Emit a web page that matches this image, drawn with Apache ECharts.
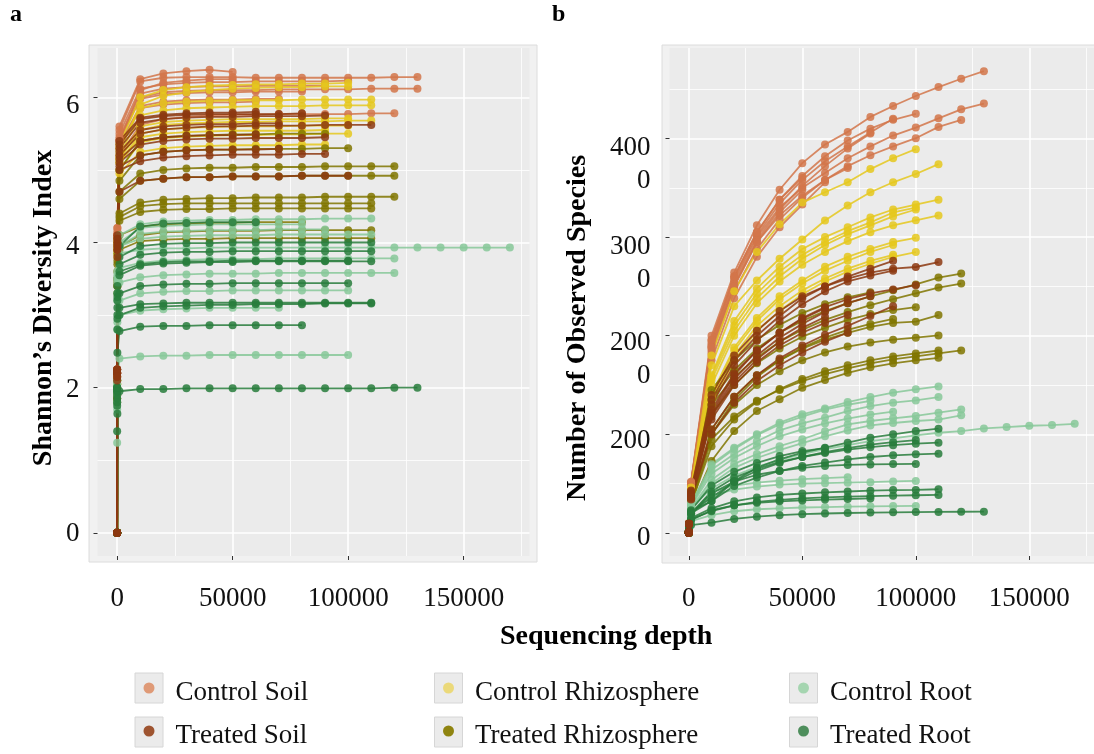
<!DOCTYPE html>
<html><head><meta charset="utf-8">
<script src="https://cdn.jsdelivr.net/npm/echarts@6/dist/echarts.min.js"></script>
<style>html,body{margin:0;padding:0;background:#fff}#chart{width:1094px;height:754px}</style>
</head><body><div id="chart"></div>
<script>
// ---------------- data ----------------
const depths = [1,10,100,1000,10000,20000,30000,40000,50000,60000,70000,80000,90000,100000,110000,120000,130000,140000,150000,160000,170000];
const groupNames = ['Control Soil','Control Rhizosphere','Treated Rhizosphere','Control Root','Treated Root','Treated Soil'];

const shannonControlSoil = [
  [0,2.25,4.2,5.55,6.22,6.27,6.28,6.28,6.28,6.27,6.27,6.27,6.27,6.27,6.27,6.28,6.28],
  [0,2.2,4.1,5.4,6.0,6.07,6.09,6.1,6.1,6.1,6.11,6.11,6.11,6.11,6.12,6.12,6.12],
  [0,2.2,4.05,5.2,5.62,5.7,5.73,5.75,5.76,5.76,5.77,5.77,5.77,5.77,5.78,5.78],
  [0,2.25,4.15,5.5,6.12,6.18,6.2,6.21,6.21,6.22,6.22,6.22,6.22,6.23],
  [0,2.2,4.1,5.45,6.05,6.12,6.14,6.15,6.15,6.16,6.16,6.16,6.16],
  [0,2.2,4.12,5.42,5.98,6.04,6.06,6.07,6.07,6.08,6.08,6.08],
  [0,2.15,4.08,5.35,5.88,5.94,5.96,5.97,5.97,5.98,5.98],
  [0,2.25,4.2,5.6,6.25,6.33,6.36,6.38,6.35],
  [0,2.2,4.1,5.4,6.1,6.2,6.23,6.25,6.25],
  [0,2.2,4.1,5.3,5.85,5.9,5.92,5.93,5.93,5.94]
];
const speciesControlSoil = [
  [1,10,97,520,2000,2640,3120,3480,3750,3940,4067,4219,4330,4431,4522,4606,4683],
  [1,10,96,500,1900,2550,3000,3300,3500,3650,3800,3920,4030,4111,4205,4296,4354],
  [1,10,95,490,1850,2500,2950,3220,3420,3580,3720,3830,3920,4003,4118,4189],
  [1,10,96,510,1950,2600,3050,3380,3620,3820,3980,4100,4190,4250],
  [1,10,96,505,1920,2580,3020,3340,3580,3770,3920,4060,4200],
  [1,10,95,495,1880,2520,2970,3280,3520,3720,3900,4050],
  [1,10,95,480,1820,2450,2880,3180,3400,3580,3700],
  [1,10,97,515,1960,2600,3050,3380,3600],
  [1,10,96,500,1880,2500,2950,3250,3480],
  [1,10,94,470,1750,2380,2800,3100,3330,3556]
];
const shannonControlRhizosphere = [
  [0,2.15,4.05,5.35,6.0,6.1,6.14,6.16,6.17,6.18,6.18,6.19,6.19,6.2],
  [0,2.1,4.0,5.3,5.85,5.92,5.94,5.95,5.96,5.96,5.96,5.97,5.97,5.97,5.97],
  [0,2.1,3.95,5.2,5.75,5.82,5.85,5.86,5.87,5.88,5.88,5.88,5.89,5.89,5.89],
  [0,2.1,3.95,5.15,5.6,5.66,5.68,5.69,5.7,5.7,5.7,5.7,5.71,5.71],
  [0,2.05,3.9,5.1,5.5,5.56,5.58,5.59,5.6,5.6,5.6,5.61,5.61,5.61],
  [0,2.05,3.85,5.0,5.38,5.44,5.46,5.47,5.48,5.48,5.49,5.49,5.5,5.5],
  [0,2.0,3.8,4.95,5.25,5.3,5.32,5.33,5.34,5.34,5.34,5.35,5.35],
  [0,2.1,4.0,5.25,5.9,6.02,6.07,6.1,6.12,6.13,6.14,6.14,6.15,6.15],
  [0,2.05,3.9,5.1,5.45,5.5,5.52,5.53,5.54,5.54,5.54,5.54,5.55],
  [0,2.1,3.9,5.15,5.55,5.62,5.64,5.65,5.66,5.66,5.67,5.67,5.67,5.68,5.68]
];
const speciesControlRhizosphere = [
  [1,10,95,460,1800,2450,2850,3130,3350,3455,3556,3690,3800,3892],
  [1,10,94,440,1700,2300,2560,2781,2976,3168,3320,3455,3556,3640,3740],
  [1,10,93,420,1600,2150,2480,2700,2880,3000,3100,3200,3280,3330,3380],
  [1,10,93,415,1580,2100,2430,2650,2820,2950,3060,3150,3250,3300],
  [1,10,92,410,1550,2050,2380,2600,2780,2920,3030,3120,3210,3280],
  [1,10,92,390,1400,1880,2180,2400,2560,2700,2800,2880,2950,2993],
  [1,10,91,380,1380,1850,2150,2370,2530,2660,2760,2850,2920],
  [1,10,90,370,1300,1750,2050,2250,2420,2550,2650,2730,2800,2848],
  [1,10,91,385,1350,1800,2100,2300,2460,2580,2680,2760,2820],
  [1,10,92,400,1500,2000,2330,2550,2720,2850,2960,3050,3120,3170,3220]
];
const shannonTreatedSoil = [
  [0,2.2,4.0,5.2,5.5,5.56,5.58,5.6,5.6,5.61,5.61,5.61,5.62,5.62,5.62],
  [0,2.25,4.05,5.3,5.65,5.7,5.72,5.73,5.73,5.74,5.74,5.74,5.75],
  [0,2.15,3.9,5.0,5.12,5.17,5.19,5.2,5.21,5.21,5.21,5.22,5.22],
  [0,2.1,3.8,4.7,4.85,4.88,4.9,4.9,4.91,4.91,4.91,4.92,4.92,4.92],
  [0,2.25,4.05,5.35,5.7,5.74,5.76,5.77,5.77,5.77,5.77,5.78],
  [0,2.2,4.0,5.25,5.55,5.6,5.62,5.63,5.63,5.64,5.64],
  [0,2.25,4.1,5.4,5.72,5.76,5.78,5.79,5.79,5.8],
  [0,2.2,3.95,5.1,5.35,5.4,5.42,5.43,5.43,5.44,5.44,5.44,5.45],
  [0,2.2,3.95,5.15,5.4,5.45,5.47,5.48,5.48,5.49],
  [0,2.15,3.9,5.05,5.2,5.25,5.27,5.28,5.28,5.28,5.29]
];
const speciesTreatedSoil = [
  [1,10,93,430,1400,1800,2050,2250,2400,2500,2580,2640,2680,2697,2747],
  [1,10,93,420,1350,1750,2000,2200,2380,2500,2600,2680,2760],
  [1,10,91,400,1300,1700,1950,2150,2320,2450,2550,2610,2660],
  [1,10,90,380,1250,1620,1850,2030,2180,2290,2370,2430,2470,2512],
  [1,10,92,390,1200,1560,1800,1980,2120,2240,2330,2400],
  [1,10,91,380,1150,1500,1730,1900,2030,2130,2210],
  [1,10,92,370,1220,1600,1850,2030,2170,2280],
  [1,10,90,350,1050,1380,1600,1770,1900,2010,2100,2200,2300],
  [1,10,90,360,1180,1530,1760,1940,2080,2190],
  [1,10,89,340,1000,1320,1540,1700,1830,1940,2030]
];
const shannonTreatedRhizosphere = [
  [0,2.0,3.7,4.7,4.95,5.0,5.02,5.03,5.03,5.04,5.04,5.04,5.05,5.05,5.05,5.05],
  [0,1.95,3.6,4.6,4.85,4.88,4.9,4.9,4.91,4.91,4.91,4.92,4.92,4.92,4.92,4.92],
  [0,1.9,3.5,4.35,4.5,4.53,4.54,4.54,4.54,4.54,4.54,4.54,4.54,4.54,4.54],
  [0,1.85,3.4,3.9,4.02,4.04,4.05,4.05,4.06,4.06,4.06,4.06,4.06,4.06,4.06],
  [0,1.9,3.5,4.4,4.55,4.59,4.6,4.61,4.61,4.62,4.62,4.62,4.63,4.63,4.63,4.63],
  [0,1.8,3.3,3.95,4.1,4.14,4.15,4.16,4.16,4.16,4.17,4.17,4.17,4.17,4.17],
  [0,2.05,3.75,4.85,5.2,5.25,5.27,5.28,5.28,5.29,5.29,5.29,5.3,5.3],
  [0,2.1,3.85,5.0,5.4,5.45,5.47,5.48,5.49,5.49,5.5,5.5,5.5],
  [0,1.85,3.4,4.1,4.22,4.25,4.26,4.27,4.27,4.28,4.28,4.28],
  [0,1.9,3.45,4.3,4.42,4.45,4.46,4.46,4.47,4.47,4.47,4.47,4.47,4.47,4.47]
];
const speciesTreatedRhizosphere = [
  [1,10,90,360,1350,1650,1870,2030,2150,2250,2330,2400,2460,2520,2590,2630],
  [1,10,89,350,1300,1580,1780,1940,2060,2160,2240,2310,2370,2430,2488,2529],
  [1,10,88,330,1050,1380,1600,1750,1870,1960,2030,2090,2130,2142,2209],
  [1,10,87,300,1000,1300,1500,1640,1750,1830,1890,1930,1960,1980,2003],
  [1,10,86,280,950,1180,1340,1450,1540,1610,1670,1720,1760,1790,1820,1851],
  [1,10,85,260,730,1033,1236,1355,1472,1550,1624,1680,1720,1750,1776],
  [1,10,89,340,1200,1500,1720,1870,1990,2080,2160,2220,2260,2290],
  [1,10,88,320,1000,1350,1580,1750,1880,1980,2060,2120,2170],
  [1,10,90,350,1450,1750,1960,2110,2230,2320,2390,2440],
  [1,10,86,290,880,1150,1330,1460,1560,1640,1700,1750,1790,1820,1850]
];
const shannonControlRoot = [
  [0,2.1,3.6,4.1,4.25,4.29,4.3,4.31,4.31,4.32,4.32,4.32,4.33,4.33,4.33],
  [0,2.05,3.5,3.95,4.05,4.08,4.09,4.1,4.1,4.1,4.11,4.11,4.11,4.11,4.11],
  [0,1.95,3.3,3.65,3.72,3.75,3.76,3.77,3.77,3.77,3.78,3.78,3.78,3.78,3.78,3.78],
  [0,1.9,3.2,3.45,3.52,3.55,3.56,3.57,3.57,3.57,3.58,3.58,3.58,3.58,3.58,3.58],
  [0,2.0,3.45,3.85,3.9,3.92,3.92,3.93,3.93,3.93,3.93,3.93,3.93,3.93,3.93,3.93,3.93,3.93,3.93,3.93,3.93],
  [0,1.8,2.9,3.2,3.3,3.32,3.33,3.33,3.34,3.34,3.34,3.34,3.34,3.34],
  [0,1.24,2.1,2.4,2.43,2.44,2.44,2.45,2.45,2.45,2.45,2.45,2.45,2.45],
  [0,2.0,3.5,3.95,4.12,4.15,4.16,4.17,4.17,4.17,4.18,4.18,4.18],
  [0,1.7,2.8,3.0,3.06,3.08,3.09,3.1,3.1,3.1,3.1],
  [0,2.05,3.55,4.0,4.2,4.23,4.24,4.25,4.25,4.25,4.25,4.25]
];
const speciesControlRoot = [
  [1,10,80,300,696,864,1000,1118,1203,1263,1327,1378,1422,1456,1486],
  [1,10,78,280,640,800,930,1040,1110,1169,1236,1287,1321,1344,1378],
  [1,10,75,250,540,700,800,880,950,1030,1100,1135,1162,1186,1220,1253],
  [1,10,73,240,500,660,760,840,910,980,1040,1090,1115,1135,1150,1193],
  [1,10,76,260,450,580,670,740,800,850,890,930,960,990,1016,1033,1060,1074,1087,1094,1107],
  [1,10,60,200,380,440,470,490,500,505,510,515,522,527],
  [1,9,40,120,180,220,240,250,258,262,266,270,272,274],
  [1,10,77,270,600,760,880,980,1050,1110,1160,1200,1230],
  [1,10,55,180,420,480,510,530,545,555,565],
  [1,10,79,290,680,850,990,1100,1180,1250,1300,1340]
];
const shannonTreatedRoot = [
  [0,2.0,3.3,3.8,3.95,3.98,3.99,3.99,4.0,4.0,4.0,4.0,4.0,4.0,4.0],
  [0,1.95,3.2,3.6,3.7,3.73,3.74,3.74,3.75,3.75,3.75,3.75,3.75,3.75],
  [0,2.0,3.25,3.7,3.83,3.86,3.87,3.87,3.88,3.88,3.88,3.88,3.88,3.88,3.88],
  [0,1.85,2.95,3.1,3.15,3.16,3.17,3.17,3.17,3.17,3.17,3.17,3.17,3.17,3.17],
  [0,1.8,2.8,3.0,3.1,3.12,3.13,3.14,3.14,3.15,3.15,3.15,3.16,3.16,3.16],
  [0,1.4,1.64,1.95,1.98,1.98,1.99,1.99,1.99,1.99,1.99,1.99,1.99,1.99,1.99,2.0,2.0],
  [0,1.75,2.48,2.78,2.84,2.85,2.85,2.86,2.86,2.86,2.86,2.86],
  [0,1.9,3.0,3.3,3.4,3.42,3.43,3.43,3.44,3.44,3.44,3.44,3.44,3.44],
  [0,1.95,3.1,3.55,3.68,3.71,3.72,3.73,3.73,3.74,3.74,3.74,3.74,3.74,3.74],
  [0,2.0,3.4,3.95,4.22,4.26,4.27,4.28,4.28,4.28]
];
const speciesTreatedRoot = [
  [1,10,70,220,324,527,662,746,814,865,915,966,1000,1033,1057],
  [1,10,68,210,360,520,630,710,770,820,860,895,920,942],
  [1,10,66,200,324,476,561,628,679,713,746,770,787,797,804],
  [1,9,50,150,250,320,360,385,400,412,420,428,435,436,443],
  [1,9,48,140,220,280,315,335,350,360,368,373,378,382,385],
  [1,8,30,80,104,142,165,180,190,197,202,206,209,211,213,215,216],
  [1,9,45,130,230,280,305,320,330,338,344,350],
  [1,10,62,190,400,520,590,630,660,680,690,695,698,700],
  [1,10,64,200,420,560,650,720,770,810,845,870,890,905,915],
  [1,10,70,230,480,620,710,780,830,860]
];

const xTicks = [0, 50000, 100000, 150000];
const xMinorTicks = [25000, 75000, 125000, 175000];
const shannonTicks = [0, 2, 4, 6];
const shannonMinorTicks = [1, 3, 5];
const speciesTicks = [0, 1000, 2000, 3000, 4000];
const speciesMinorTicks = [500, 1500, 2500, 3500, 4500];
const speciesTickLabels = ['0', '200\n0', '200\n0', '300\n0', '400\n0'];

// ---------------- styles ----------------
const FONT = 'Liberation Serif';
const lineColors = {
  'Control Soil': 'rgba(210,117,74,0.85)',
  'Treated Soil': 'rgba(140,56,16,0.85)',
  'Control Rhizosphere': 'rgba(229,200,29,0.85)',
  'Treated Rhizosphere': 'rgba(128,118,0,0.85)',
  'Control Root': 'rgba(135,200,153,0.85)',
  'Treated Root': 'rgba(40,125,60,0.85)'
};
const legendColors = {
  'Control Soil': '#DF9A77', 'Treated Soil': '#9E5430',
  'Control Rhizosphere': '#EBD97A', 'Treated Rhizosphere': '#8F8410',
  'Control Root': '#A5D5B0', 'Treated Root': '#4E8E5C'
};
const shannonSets = {
  'Control Soil': shannonControlSoil, 'Control Rhizosphere': shannonControlRhizosphere,
  'Treated Soil': shannonTreatedSoil, 'Treated Rhizosphere': shannonTreatedRhizosphere,
  'Control Root': shannonControlRoot, 'Treated Root': shannonTreatedRoot
};
const speciesSets = {
  'Control Soil': speciesControlSoil, 'Control Rhizosphere': speciesControlRhizosphere,
  'Treated Soil': speciesTreatedSoil, 'Treated Rhizosphere': speciesTreatedRhizosphere,
  'Control Root': speciesControlRoot, 'Treated Root': speciesTreatedRoot
};

const series = [];
function addSeries(name, samples, axisIndex) {
  samples.forEach(s => {
    series.push({
      type: 'line', name: name, xAxisIndex: axisIndex, yAxisIndex: axisIndex,
      data: s.map((v, i) => [depths[i], v]),
      symbol: 'circle', symbolSize: 8, showSymbol: true,
      lineStyle: { width: 1.8, color: lineColors[name] },
      itemStyle: { color: lineColors[name] },
      emphasis: { disabled: true }, silent: true, animation: false
    });
  });
}
groupNames.forEach(n => addSeries(n, shannonSets[n], 0));
groupNames.forEach(n => addSeries(n, speciesSets[n], 1));

// rich label styles (each label's line box height positions it relative to its tick)
const rich = {};
[2, 5, 8, 9, 14, 18, 19, 47, 49, 52].forEach(h => {
  rich['h' + h] = { fontFamily: FONT, fontSize: 27, color: '#111', lineHeight: h };
});
const shannonLabelBox = { 0: 'h2', 2: 'h5', 4: 'h8', 6: 'h18' };
const speciesLabelBox = { 0: ['h9'], 1000: ['h14', 'h49'], 2000: ['h14', 'h52'], 3000: ['h19', 'h47'], 4000: ['h19', 'h47'] };

const tickStyle = { show: true, length: 4, lineStyle: { color: '#333', width: 1 } };
const majorSplit = { show: true, lineStyle: { color: '#ffffff', width: 1.6 } };
const minorSplit = { show: true, lineStyle: { color: '#ffffff', width: 0.8 } };
const xLabel = { fontFamily: FONT, fontSize: 27, color: '#111', margin: 29, customValues: xTicks, formatter: v => String(v) };

function mainX(grid) {
  return {
    type: 'value', gridIndex: grid, min: -8500, max: 178500, position: 'bottom',
    axisLine: { show: false, onZero: false },
    axisTick: Object.assign({ customValues: xTicks }, tickStyle),
    axisLabel: xLabel, splitLine: majorSplit
  };
}
function minorAxis(grid, min, max, vals, pos) {
  return {
    type: 'value', gridIndex: grid, min: min, max: max, position: pos,
    axisLine: { show: false, onZero: false }, axisTick: { show: false, customValues: vals },
    axisLabel: { show: false }, splitLine: minorSplit
  };
}

// legend: one component per key (column icon x, row icon centre y)
const legendKeys = [
  ['Control Soil', 143.5, 689], ['Treated Soil', 143.5, 732],
  ['Control Rhizosphere', 443, 689], ['Treated Rhizosphere', 443, 732],
  ['Control Root', 798, 689], ['Treated Root', 798, 732]
];

const option = {
  backgroundColor: '#ffffff',
  animation: false,
  title: [
    { text: 'a', left: 10, top: 3, padding: 0, textStyle: { fontFamily: FONT, fontWeight: 'bold', fontSize: 24, color: '#000' } },
    { text: 'b', left: 552, top: 3, padding: 0, textStyle: { fontFamily: FONT, fontWeight: 'bold', fontSize: 24, color: '#000' } },
    { text: 'Sequencing depth', left: 500, top: 623, padding: 0, textStyle: { fontFamily: FONT, fontWeight: 'bold', fontSize: 28, color: '#000' } }
  ],
  graphic: [
    { type: 'rect', z: -10, silent: true, shape: { x: 89, y: 45, width: 448, height: 517 }, style: { fill: '#F1F1F1', stroke: '#DCDCDC', lineWidth: 1 } },
    { type: 'rect', z: -10, silent: true, shape: { x: 662, y: 45, width: 440, height: 518 }, style: { fill: '#F1F1F1', stroke: '#DCDCDC', lineWidth: 1 } },
    { type: 'rect', silent: true, shape: { x: 135, y: 673, width: 28, height: 30 }, style: { fill: '#EBEBEB', stroke: '#D6D6D6', lineWidth: 1 } },
    { type: 'rect', silent: true, shape: { x: 135, y: 717, width: 28, height: 30 }, style: { fill: '#EBEBEB', stroke: '#D6D6D6', lineWidth: 1 } },
    { type: 'rect', silent: true, shape: { x: 434.5, y: 673, width: 28, height: 30 }, style: { fill: '#EBEBEB', stroke: '#D6D6D6', lineWidth: 1 } },
    { type: 'rect', silent: true, shape: { x: 434.5, y: 717, width: 28, height: 30 }, style: { fill: '#EBEBEB', stroke: '#D6D6D6', lineWidth: 1 } },
    { type: 'rect', silent: true, shape: { x: 789.5, y: 673, width: 28, height: 30 }, style: { fill: '#EBEBEB', stroke: '#D6D6D6', lineWidth: 1 } },
    { type: 'rect', silent: true, shape: { x: 789.5, y: 717, width: 28, height: 30 }, style: { fill: '#EBEBEB', stroke: '#D6D6D6', lineWidth: 1 } }
  ],
  legend: legendKeys.map(k => ({
    orient: 'vertical', left: k[1], top: k[2] - 20, padding: 0,
    itemWidth: 11, itemHeight: 11, icon: 'circle', selectedMode: false,
    data: [{ name: k[0], itemStyle: { color: legendColors[k[0]] } }],
    formatter: n => '{s| }\n{t|' + n + '}',
    textStyle: {
      color: '#111', padding: [0, 0, 0, 16],
      rich: {
        s: { fontSize: 8, lineHeight: 10 },
        t: { fontFamily: FONT, fontSize: 27, lineHeight: 30, color: '#111' }
      }
    }
  })),
  grid: [
    { left: 97.5, top: 48, width: 432, height: 508, show: true, backgroundColor: '#EBEBEB', borderWidth: 0, containLabel: false },
    { left: 669.5, top: 48, width: 433, height: 508, show: true, backgroundColor: '#EBEBEB', borderWidth: 0, containLabel: false }
  ],
  xAxis: [
    mainX(0), mainX(1),
    minorAxis(0, -8500, 178500, xMinorTicks, 'top'),
    minorAxis(1, -8500, 178500, xMinorTicks, 'top')
  ],
  yAxis: [
    {
      type: 'value', gridIndex: 0, min: -0.32, max: 6.68, position: 'left',
      name: 'Shannon\u2019s Diversity Index', nameLocation: 'middle', nameGap: 40,
      nameTextStyle: { fontFamily: FONT, fontWeight: 'bold', fontSize: 28, color: '#000', padding: [0, 12, 0, 0] },
      axisLine: { show: false, onZero: false },
      axisTick: Object.assign({ customValues: shannonTicks }, tickStyle),
      axisLabel: {
        customValues: shannonTicks, margin: 18, verticalAlign: 'top', rich: rich,
        formatter: v => '{' + shannonLabelBox[v] + '|' + v + '}'
      },
      splitLine: majorSplit
    },
    {
      type: 'value', gridIndex: 1, min: -234, max: 4918, position: 'left',
      name: 'Number of Observed Species', nameLocation: 'middle', nameGap: 78,
      nameTextStyle: { fontFamily: FONT, fontWeight: 'bold', fontSize: 28, color: '#000', padding: [0, 52, 0, 0] },
      axisLine: { show: false, onZero: false },
      axisTick: Object.assign({ customValues: speciesTicks }, tickStyle),
      axisLabel: {
        customValues: speciesTicks, margin: 19, verticalAlign: 'top', rich: rich,
        formatter: v => {
          const lines = speciesTickLabels[speciesTicks.indexOf(v)].split('\n');
          const boxes = speciesLabelBox[v];
          return lines.map((t, i) => '{' + boxes[i] + '|' + t + '}').join('\n');
        }
      },
      splitLine: majorSplit
    },
    minorAxis(0, -0.32, 6.68, shannonMinorTicks, 'right'),
    minorAxis(1, -234, 4918, speciesMinorTicks, 'right')
  ],
  series: series
};

const chart = echarts.init(document.getElementById('chart'), null, { renderer: 'canvas' });
chart.setOption(option);
</script>
</body></html>
